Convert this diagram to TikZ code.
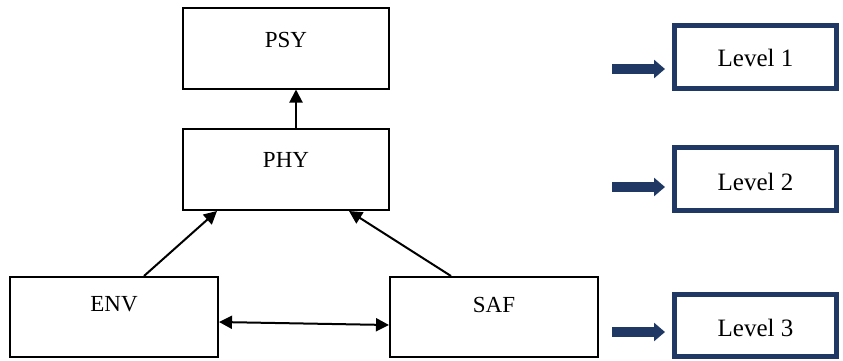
\documentclass[tikz,border=0pt]{standalone}
\usepackage{fontspec}
\setmainfont{Liberation Serif}
\usetikzlibrary{arrows.meta}
\definecolor{navy}{RGB}{31,56,100}
\begin{document}
\begin{tikzpicture}[x=1pt,y=-1pt,
  factor/.style={draw=black,line width=2pt,minimum width=206pt,minimum height=81pt,inner sep=0pt},
  levelbox/.style={draw=navy,line width=5pt,minimum width=162pt,minimum height=63pt,inner sep=0pt},
  txt/.style={font=\fontsize{23}{26}\selectfont},
  ltxt/.style={font=\fontsize{25}{28}\selectfont},
  link/.style={line width=2pt,-{Triangle[length=13pt,width=13pt]}},
  both/.style={line width=2pt,{Triangle[length=13pt,width=13pt]}-{Triangle[length=13pt,width=13pt]}},
  levelarrow/.style={draw=navy,line width=10pt,-{Triangle[length=11pt,width=18pt]},shorten >=7pt}]
\useasboundingbox (0,0) rectangle (843,360);

% factor boxes
\node[factor,label={[txt,name=psyt,yshift=8.5pt]center:PSY}] (psy) at (286,48) {};
\node[factor,label={[txt,name=phyt,yshift=10pt]center:PHY}] (phy) at (286,169.5) {};
\node[factor,minimum width=208pt,minimum height=80pt,label={[txt,name=envt,yshift=12.5pt]center:ENV}] (env) at (114,317) {};
\node[factor,minimum width=208pt,minimum height=80pt,label={[txt,name=saft,yshift=12.5pt]center:SAF}] (saf) at (494,317) {};

% links between factors
\draw[link] ([xshift=10pt]phy.north) -- ([xshift=10pt]psy.south);
\draw[link] ([xshift=30pt]env.north) -- ([xshift=-69pt]phy.south);
\draw[link] ([xshift=-43pt]saf.north) -- ([xshift=63pt]phy.south);
\draw[both] ([yshift=-5pt]env.east) -- ([yshift=-8pt]saf.west);

% level boxes
\node[levelbox,label={[ltxt,name=l1t,yshift=-1pt]center:Level 1}] (l1) at (755.5,57) {};
\node[levelbox,label={[ltxt,name=l2t,yshift=-2.5pt]center:Level 2}] (l2) at (755.5,179) {};
\node[levelbox,minimum height=62pt,label={[ltxt,name=l3t,yshift=-2.5pt]center:Level 3}] (l3) at (755.5,325.5) {};

% level pointers
\coordinate (a1) at (612,69);
\coordinate (a2) at (612,187);
\coordinate (a3) at (612,332);
\draw[levelarrow] (a1) -- (a1 -| l1.west);
\draw[levelarrow] (a2) -- (a2 -| l2.west);
\draw[levelarrow] (a3) -- (a3 -| l3.west);
\end{tikzpicture}
\end{document}
